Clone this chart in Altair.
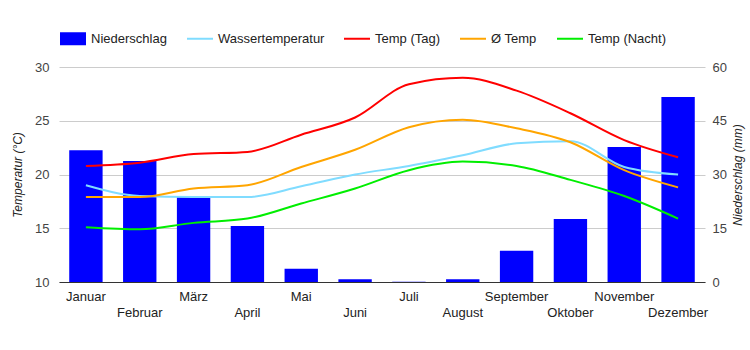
import altair as alt
import pandas as pd

months = ["Januar", "Februar", "März", "April", "Mai", "Juni", "Juli",
          "August", "September", "Oktober", "November", "Dezember"]
niederschlag = [36.8, 33.8, 23.8, 15.6, 3.7, 0.8, 0.1, 0.8, 8.7, 17.6, 37.7, 51.6]
wasser = [19.0, 18.0, 17.9, 17.9, 18.9, 20.0, 20.8, 21.8, 22.9, 23.1, 20.7, 20.0]
temp_tag = [20.8, 21.1, 21.9, 22.1, 23.7, 25.3, 28.4, 29.0, 27.8, 25.7, 23.2, 21.6]
temp_avg = [17.9, 17.9, 18.7, 19.0, 20.7, 22.3, 24.4, 25.1, 24.3, 23.0, 20.4, 18.8]
temp_nacht = [15.1, 14.9, 15.5, 15.9, 17.3, 18.7, 20.4, 21.2, 20.8, 19.5, 18.0, 15.9]

series_names = ["Niederschlag", "Wassertemperatur", "Temp (Tag)", "Ø Temp", "Temp (Nacht)"]
series_colors = ["#0000ff", "#80dcff", "#ff0000", "#ffa500", "#00ee00"]

bar_df = pd.DataFrame({"Monat": months, "Wert": niederschlag, "Serie": "Niederschlag"})
line_frames = []
for name, vals in [("Wassertemperatur", wasser), ("Temp (Tag)", temp_tag),
                   ("Ø Temp", temp_avg), ("Temp (Nacht)", temp_nacht)]:
    line_frames.append(pd.DataFrame({"Monat": months, "Wert": vals, "Serie": name}))
line_df = pd.concat(line_frames, ignore_index=True)

font = "Liberation Sans"
even_months = months[1::2]
label_expr = ("indexof(" + str(even_months) + ", datum.value) >= 0 ? ['', datum.value] : datum.value")

x_enc = alt.X("Monat:N", sort=months,
              scale=alt.Scale(paddingInner=0.38, paddingOuter=0.19),
              axis=alt.Axis(title=None, labelAngle=0, ticks=False, grid=False,
                            domainColor="#333333", labelColor="#222222", labelFontSize=13,
                            labelPadding=8, labelExpr=label_expr, labelLineHeight=16,
                            labelBaseline="top", labelFont=font))

color_scale = alt.Scale(domain=series_names, range=series_colors)

is_bar = "datum.label == 'Niederschlag'"
legend = alt.Legend(
    title=None, orient="none", direction="horizontal", legendX=7.5, legendY=-35,
    labelFontSize=13, labelColor="#222222", labelFont=font, columnPadding=15,
    labelOffset=11.5,
    symbolType=alt.ExprRef(expr=is_bar + " ? 'M-1,-0.5H1V0.5H-1Z' : 'stroke'"),
    symbolSize=676,
    symbolStrokeWidth=alt.ExprRef(expr=is_bar + " ? 0 : 2"),
    symbolOpacity=1,
)

bars = alt.Chart(bar_df).mark_bar(opacity=1).encode(
    x=x_enc,
    y=alt.Y("Wert:Q", scale=alt.Scale(domain=[0, 60], nice=False, zero=True),
            axis=alt.Axis(orient="right", title="Niederschlag (mm)", values=[0, 15, 30, 45, 60],
                          grid=False, ticks=False, domain=False, labelColor="#444444",
                          labelFontSize=13, labelPadding=7, labelFont=font,
                          titleFont=font, titleFontStyle="italic", titleFontWeight="normal",
                          titleFontSize=12, titleColor="#222222", titlePadding=6,
                          titleAngle=270, titleBaseline="top")),
    color=alt.Color("Serie:N", scale=color_scale, legend=legend),
)

lines = alt.Chart(line_df).mark_line(strokeWidth=2, interpolate="monotone").encode(
    x=x_enc,
    y=alt.Y("Wert:Q", scale=alt.Scale(domain=[10, 30], nice=False, zero=False),
            axis=alt.Axis(orient="left", title="Temperatur (°C)", values=[10, 15, 20, 25, 30],
                          grid=True, gridColor="#cccccc", ticks=False, domain=False,
                          labelColor="#444444", labelFontSize=13, labelPadding=10,
                          labelFont=font, titleFont=font, titleFontStyle="italic",
                          titleFontWeight="normal", titleFontSize=12, titleColor="#222222",
                          titlePadding=10)),
    color=alt.Color("Serie:N", scale=color_scale, legend=legend),
    detail="Serie:N",
)

chart = alt.layer(bars, lines).resolve_scale(y="independent").properties(
    width=646, height=215,
    autosize=alt.AutoSizeParams(type="none"),
    padding={"left": 59, "top": 67, "right": 45, "bottom": 68},
    background="white",
).configure_view(stroke=None)

chart.save("out.html", embed_options={"renderer": "svg", "actions": False})
